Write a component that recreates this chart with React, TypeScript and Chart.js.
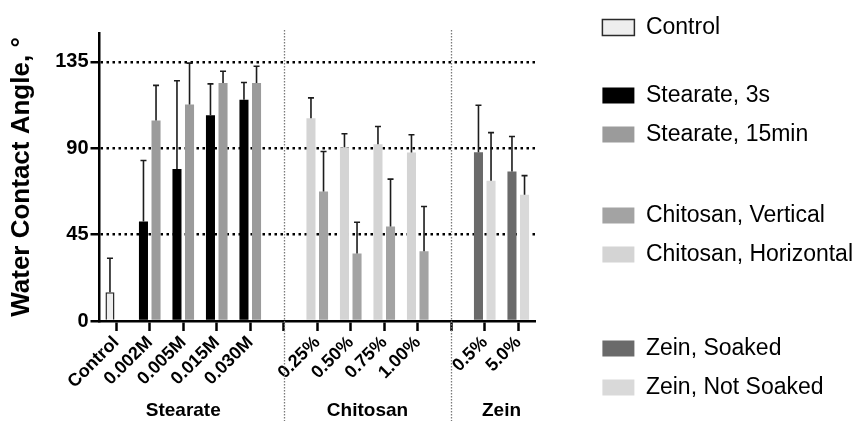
import React, { useEffect, useRef } from 'react';
import { Chart, registerables } from 'chart.js';

Chart.register(...registerables);

const FONT = "'Liberation Sans', Arial, Helvetica, sans-serif";
Chart.defaults.font.family = FONT;
Chart.defaults.color = '#000';

const N = null;

// Categories along the x axis ('' = group separator)
const categories = ['Control', '0.002M', '0.005M', '0.015M', '0.030M', '', '0.25%', '0.50%', '0.75%', '1.00%', '', '0.5%', '5.0%'];
const categoryGroup = ['Stearate', 'Stearate', 'Stearate', 'Stearate', 'Stearate', '', 'Chitosan', 'Chitosan', 'Chitosan', 'Chitosan', '', 'Zein', 'Zein'];
const groupNames = ['Stearate', 'Chitosan', 'Zein'];
const yTicks = [0, 45, 90, 135];
const yMax = 150;

// Means and standard deviations (°)
const controlMean = [15.0, N, N, N, N, N, N, N, N, N, N, N, N];
const controlSD = [17.7, N, N, N, N, N, N, N, N, N, N, N, N];
const stearate3sMean = [N, 51.8, 79.2, 107.2, 115.2, N, N, N, N, N, N, N, N];
const stearate3sSD = [N, 31.8, 45.9, 16.3, 9.0, N, N, N, N, N, N, N, N];
const stearate15Mean = [N, 104.4, 112.8, 123.9, 123.9, N, N, N, N, N, N, N, N];
const stearate15SD = [N, 18.3, 21.5, 6.2, 8.8, N, N, N, N, N, N, N, N];
const chitosanVMean = [N, N, N, N, N, N, 67.4, 35.1, 49.2, 36.3, N, N, N];
const chitosanVSD = [N, N, N, N, N, N, 20.9, 16.3, 24.7, 23.3, N, N, N];
const chitosanHMean = [N, N, N, N, N, N, 105.6, 90.5, 92.1, 87.7, N, N, N];
const chitosanHSD = [N, N, N, N, N, N, 10.6, 7.0, 9.2, 9.3, N, N, N];
const zeinSoakedMean = [N, N, N, N, N, N, N, N, N, N, N, 87.9, 77.8];
const zeinSoakedSD = [N, N, N, N, N, N, N, N, N, N, N, 24.5, 18.3];
const zeinNotSoakedMean = [N, N, N, N, N, N, N, N, N, N, N, 73.1, 65.8];
const zeinNotSoakedSD = [N, N, N, N, N, N, N, N, N, N, N, 25.0, 9.9];

type Series = {
  label: string;
  mean: (number | null)[];
  sd: (number | null)[];
  color: string;
  border?: string;
  stack: string;
  legendGap: number;
  legendOrder: number;
};

const series: Series[] = [
  { label: 'Control', mean: controlMean, sd: controlSD, color: '#eeeeee', border: '#2a2a2a', stack: 'L', legendGap: 0, legendOrder: 0 },
  { label: 'Stearate, 3s', mean: stearate3sMean, sd: stearate3sSD, color: '#000000', stack: 'L', legendGap: 1, legendOrder: 1 },
  { label: 'Stearate, 15min', mean: stearate15Mean, sd: stearate15SD, color: '#9b9b9b', stack: 'R', legendGap: 0, legendOrder: 2 },
  { label: 'Chitosan, Horizontal', mean: chitosanHMean, sd: chitosanHSD, color: '#d4d4d4', stack: 'L', legendGap: 0, legendOrder: 4 },
  { label: 'Chitosan, Vertical', mean: chitosanVMean, sd: chitosanVSD, color: '#a3a3a3', stack: 'R', legendGap: 2, legendOrder: 3 },
  { label: 'Zein, Soaked', mean: zeinSoakedMean, sd: zeinSoakedSD, color: '#6a6a6a', stack: 'L', legendGap: 3, legendOrder: 5 },
  { label: 'Zein, Not Soaked', mean: zeinNotSoakedMean, sd: zeinNotSoakedSD, color: '#d9d9d9', stack: 'R', legendGap: 0, legendOrder: 6 },
];

const groupCenters = groupNames.map((name) => {
  const idx = categoryGroup.map((g, i) => (g === name ? i : -1)).filter((i) => i >= 0);
  return { name, center: idx.reduce((a, b) => a + b, 0) / idx.length };
});

function buildLegendItems() {
  const items: any[] = [];
  const ordered = series.map((s, i) => ({ s, i })).sort((a, b) => a.s.legendOrder - b.s.legendOrder);
  ordered.forEach(({ s, i }) => {
    if (s.legendGap > 0) {
      items.push({
        text: new Array(s.legendGap).fill(''),
        fillStyle: 'rgba(0,0,0,0)',
        strokeStyle: 'rgba(0,0,0,0)',
        lineWidth: 0,
        hidden: false,
        fontColor: '#000',
      });
    }
    items.push({
      text: s.label,
      fillStyle: s.color,
      strokeStyle: s.border ?? s.color,
      lineWidth: s.border ? 1.5 : 0,
      hidden: false,
      datasetIndex: i,
      fontColor: '#000',
    });
  });
  return items;
}

const errorBarsPlugin = {
  id: 'errorBars',
  afterDatasetsDraw(chart: any) {
    const ctx = chart.ctx;
    const yScale = chart.scales.y;
    chart.data.datasets.forEach((ds: any, di: number) => {
      const meta = chart.getDatasetMeta(di);
      meta.data.forEach((bar: any, i: number) => {
        const v = ds.data[i];
        const e = ds.errors[i];
        if (v == null || e == null) return;
        const top = yScale.getPixelForValue(v + e);
        ctx.save();
        ctx.strokeStyle = '#1c1c1c';
        ctx.lineWidth = 1.6;
        ctx.beginPath();
        ctx.moveTo(bar.x, bar.y);
        ctx.lineTo(bar.x, top);
        ctx.moveTo(bar.x - 3, top);
        ctx.lineTo(bar.x + 3, top);
        ctx.stroke();
        ctx.restore();
      });
    });
  },
};

const separatorPlugin = {
  id: 'separators',
  beforeDatasetsDraw(chart: any) {
    const ctx = chart.ctx;
    const xs = chart.scales.x;
    const ys = chart.scales.y;
    categories.forEach((c, i) => {
      if (c !== '') return;
      const px = Math.round(xs.getPixelForValue(i)) + 0.5;
      ctx.save();
      ctx.strokeStyle = '#7a7a7a';
      ctx.lineWidth = 1.3;
      ctx.setLineDash([1.5, 1.5]);
      ctx.beginPath();
      ctx.moveTo(px, ys.top - 3);
      ctx.lineTo(px, chart.height);
      ctx.stroke();
      ctx.restore();
    });
  },
};

export default function App() {
  const ref = useRef<HTMLCanvasElement>(null);

  useEffect(() => {
    const canvas = ref.current;
    if (!canvas) return;
    const chart = new Chart(canvas, {
      type: 'bar',
      data: {
        labels: categories,
        datasets: series.map((s) => ({
          label: s.label,
          data: s.mean,
          errors: s.sd,
          backgroundColor: s.color,
          borderColor: s.border ?? s.color,
          borderWidth: s.border ? 1.5 : 0,
          stack: s.stack,
          xAxisID: 'x',
          yAxisID: 'y',
          categoryPercentage: 0.75,
          barPercentage: 0.72,
        })) as any,
      },
      options: {
        responsive: false,
        animation: false,
        layout: { padding: { left: 0, top: 0, bottom: 0, right: -5 } },
        plugins: {
          tooltip: { enabled: false },
          legend: {
            display: true,
            position: 'right',
            align: 'start',
            maxWidth: 400,
            labels: {
              boxWidth: 32,
              boxHeight: 16,
              padding: 16,
              color: '#000',
              font: { family: FONT, size: 23, lineHeight: '13px' } as any,
              generateLabels: () => buildLegendItems(),
            },
          },
        },
        scales: {
          x: {
            type: 'category',
            position: 'bottom',
            offset: true,
            afterFit: (s: any) => {
              s.height = 78;
            },
            grid: {
              display: true,
              drawOnChartArea: false,
              drawTicks: true,
              tickLength: 10,
              tickWidth: 2.5,
              tickColor: '#000',
              offset: false,
            },
            border: { display: true, color: '#000', width: 2.5 },
            ticks: {
              autoSkip: false,
              maxRotation: 45,
              minRotation: 45,
              padding: 1,
              color: '#000',
              font: { family: FONT, size: 18, weight: 'bold' },
            },
          },
          xGroup: {
            type: 'linear',
            position: 'bottom',
            bounds: 'data',
            offset: false,
            min: -0.5,
            max: categories.length - 0.5,
            afterBuildTicks: (s: any) => {
              s.ticks = groupCenters.map((g) => ({ value: g.center }));
            },
            afterFit: (s: any) => {
              s.height = 22;
            },
            grid: { display: false, drawTicks: false, offset: false },
            border: { display: false },
            ticks: {
              autoSkip: false,
              maxRotation: 0,
              minRotation: 0,
              padding: 0,
              color: '#000',
              font: { family: FONT, size: 19, weight: 'bold' },
              callback: (v: any) => {
                const g = groupCenters.find((gc) => Math.abs(gc.center - Number(v)) < 1e-6);
                return g ? g.name : '';
              },
            },
          },
          xTop: {
            type: 'category',
            position: 'top',
            afterFit: (s: any) => {
              s.height = 33;
            },
            grid: { display: false, drawTicks: false },
            border: { display: false },
            ticks: { display: false },
          },
          y: {
            type: 'linear',
            position: 'left',
            min: 0,
            max: yMax,
            stacked: false,
            afterBuildTicks: (s: any) => {
              s.ticks = yTicks.map((v) => ({ value: v }));
            },
            afterFit: (s: any) => {
              s.width = 99.5;
            },
            grid: {
              display: true,
              drawOnChartArea: true,
              drawTicks: true,
              color: (c: any) => (c.tick && c.tick.value === 0 ? 'rgba(0,0,0,0)' : '#000'),
              lineWidth: 2.5,
              tickLength: 9,
              tickWidth: 2.5,
              tickColor: '#000',
              tickBorderDash: [],
            } as any,
            border: { display: true, color: '#000', width: 2.5, dash: [2.5, 3.5] },
            ticks: {
              padding: 2,
              color: '#000',
              font: { family: FONT, size: 20, weight: 'bold' },
            },
            title: {
              display: true,
              text: 'Water Contact Angle, °',
              color: '#000',
              font: { family: FONT, size: 26, weight: 'bold' },
              padding: { top: 6, bottom: 0 },
            },
          },
          yRight: {
            type: 'linear',
            position: 'right',
            afterFit: (s: any) => {
              const lg = s.chart.legend;
              s.width = Math.max(0, s.chart.width + 5 - (lg ? lg.width : 0) - 535);
            },
            grid: { display: false, drawTicks: false },
            border: { display: false },
            ticks: { display: false },
          },
        } as any,
      },
      plugins: [separatorPlugin, errorBarsPlugin],
    });
    return () => chart.destroy();
  }, []);

  return (
    <div style={{ position: 'absolute', left: 0, top: 0, width: 858, height: 421, background: '#fff' }}>
      <canvas ref={ref} width={858} height={421} style={{ display: 'block' }} />
    </div>
  );
}
